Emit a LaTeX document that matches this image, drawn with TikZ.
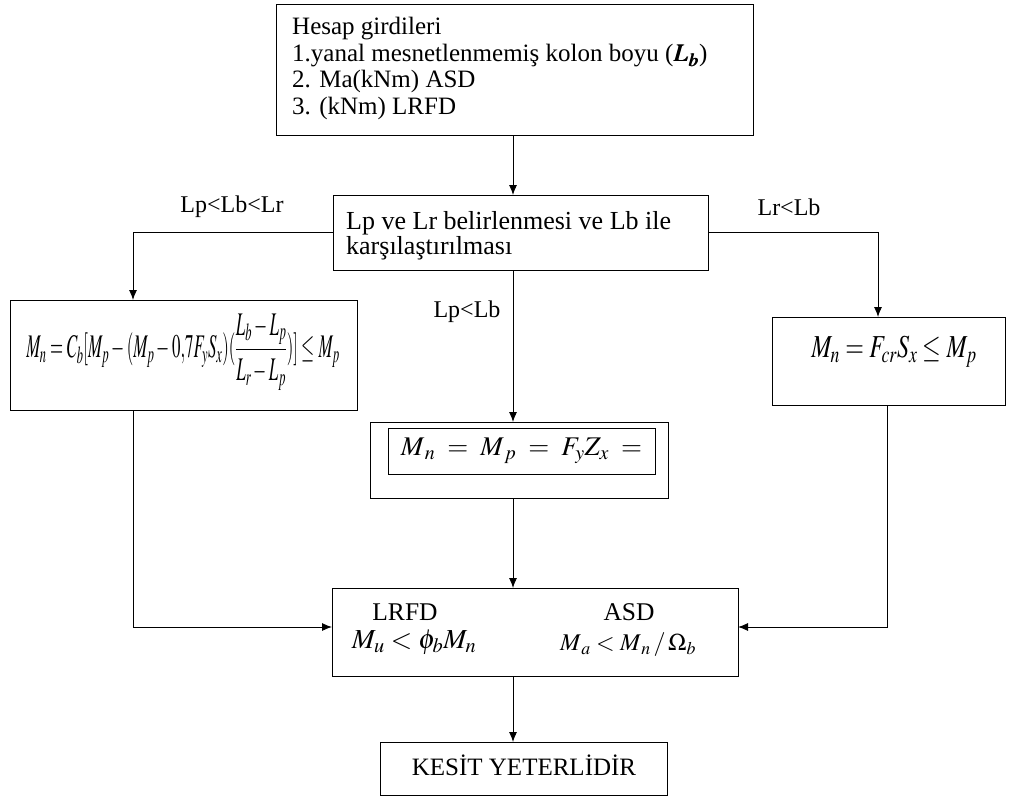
\documentclass[tikz,border=0pt]{standalone}
\usepackage{amsmath}
\usepackage{mathptmx}
\usepackage{bm}
\usepackage{graphicx}
\usepackage{fontspec}
\setmainfont{Liberation Serif}
\usetikzlibrary{arrows.meta,calc}
\begin{document}
\begin{tikzpicture}[x=1pt,y=-1pt,
  box/.style={draw,line width=1pt,inner sep=0pt,outer sep=0pt},
  arr/.style={line width=0.9pt,-{Latex[length=10pt,width=8pt]}},
  lbl/.style={font=\fontsize{24}{28}\selectfont,inner sep=0pt},
  txt/.style={font=\fontsize{25}{26}\selectfont,inner sep=0pt}]
\useasboundingbox (0,0) rectangle (1011,797);
% boxes
\node[box,minimum width=477pt,minimum height=130pt] (top) at (514.5,70) {};
\node[txt,anchor=base west] (t1) at (292,35) {Hesap girdileri};
\node[txt,anchor=base west] (t2) at (292,62) {1.yanal mesnetlenmemiş kolon boyu ($\bm{L_b}$)};
\node[txt,anchor=base west] (t3) at (292,88) {2. Ma(kNm) ASD};
\node[txt,anchor=base west] (t4) at (292,115) {3. (kNm) LRFD};
\node[box,minimum width=375pt,minimum height=75pt] (mid) at (520.5,232.5) {};
\node[txt,anchor=base west,font=\fontsize{26}{28}\selectfont] (m1) at (346,229) {Lp ve Lr belirlenmesi ve Lb ile};
\node[txt,anchor=base west,font=\fontsize{26}{28}\selectfont] (m2) at (346,254) {karşılaştırılması};
\node[box,minimum width=347pt,minimum height=110pt] (left) at (183.5,355) {};
\node[inner sep=0pt] (lefttxt) at (183,352) {\scalebox{0.51}[1]{\fontsize{33}{36}\selectfont$M_n=C_b[M_p-(M_p-0{,}7F_yS_x)(\dfrac{L_b-L_p}{L_r-L_p})]\leq M_p$}};
\node[box,minimum width=233pt,minimum height=88pt] (right) at (888.5,361) {};
\node[inner sep=0pt] (righttxt) at (894,352) {\scalebox{0.75}[1]{\fontsize{32}{36}\selectfont$M_n=F_{cr}S_x\leq M_p$}};
\node[box,minimum width=298pt,minimum height=76pt] (cent) at (519,460) {};
\node[box,line width=0.8pt,minimum width=267pt,minimum height=46pt,font=\fontsize{27}{30}\selectfont] (inner) at (521.5,451) {$M_{\,n}\;=\;M_{\,p}\;=\;F_yZ_x\;=$};
\node[box,minimum width=406pt,minimum height=88pt] (bot) at (535,632) {};
\node[txt,font=\fontsize{25.5}{28}\selectfont] (lrfd) at (405,612) {LRFD};
\node[txt,font=\fontsize{25.5}{28}\selectfont] (asd) at (629,612) {ASD};
\node[inner sep=0pt,font=\fontsize{27.5}{30}\selectfont] (fu) at (414,642) {$M_u<\phi_bM_n$};
\node[inner sep=0pt,font=\fontsize{24}{28}\selectfont] (fa) at (628,645) {$M_{\,a}<M_{\,n}\,/\,\Omega_b$};
\node[box,minimum width=287pt,minimum height=53pt] (fin) at (523.5,768.5) {};
\node[txt,font=\fontsize{25}{28}\selectfont] (fintxt) at (524,765) {KESİT YETERLİDİR};
% labels
\node[lbl] (l1) at (232,207) {Lp<Lb<Lr};
\node[lbl] (l2) at (789,207) {Lr<Lb};
\node[lbl] (l3) at (467,312) {Lp<Lb};
% connectors
\draw[arr] (513,0 |- top.south) -- (513,0 |- mid.north);
\draw[arr] (mid.west) -| (133,0 |- left.north);
\draw[arr] (mid.east) -| (878,0 |- right.north);
\draw[arr] (513,0 |- mid.south) -- (513,0 |- cent.north);
\draw[arr] (133,0 |- left.south) |- (bot.west |- 0,627);
\draw[arr] (513,0 |- cent.south) -- (513,0 |- bot.north);
\draw[arr] (887,0 |- right.south) |- (bot.east |- 0,627);
\draw[arr] (513,0 |- bot.south) -- (513,0 |- fin.north);
\end{tikzpicture}
\end{document}
